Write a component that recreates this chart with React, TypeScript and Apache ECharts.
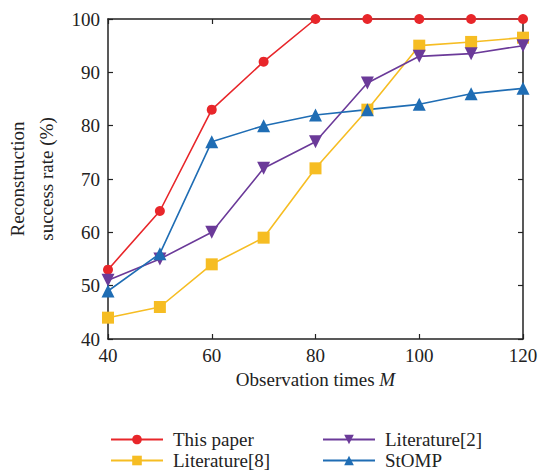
import React, { useEffect, useRef } from "react";
import * as echarts from "echarts";

const xValues = [40, 50, 60, 70, 80, 90, 100, 110, 120];
const thisPaper = [53, 64, 83, 92, 100, 100, 100, 100, 100];
const literature8 = [44, 46, 54, 59, 72, 83, 95, 95.7, 96.5];
const literature2 = [51, 55, 60, 72, 77, 88, 93, 93.5, 95];
const stomp = [49, 56, 77, 80, 82, 83, 84, 86, 87];

const FONT = "Liberation Serif";
const FS = 19;

function pairs(ys: number[]) {
  return xValues.map((x, i) => [x, ys[i]]);
}

export default function App() {
  const ref = useRef<HTMLDivElement>(null);
  useEffect(() => {
    if (!ref.current) return;
    const chart = echarts.init(ref.current, undefined, { renderer: "svg" });
    const axisLine = { show: true, lineStyle: { color: "#222", width: 1.5 } };
    const tick = { show: true, inside: true, length: 5, lineStyle: { color: "#222", width: 1.2 } };
    const label = { color: "#222", fontFamily: FONT, fontSize: FS };
    const mkSeries = (name: string, data: number[], color: string, symbol: string, size: number, rotate = 0) => ({
      name,
      type: "line",
      data: pairs(data),
      symbol,
      symbolSize: size,
      symbolRotate: rotate,
      itemStyle: { color },
      lineStyle: { color, width: 1.6 },
    });
    const mkLegend = (name: string, left: number, top: number) => ({
      data: [name],
      left,
      top,
      padding: 0,
      itemWidth: 52,
      itemHeight: 12,
      textStyle: { fontFamily: FONT, fontSize: FS, color: "#222", padding: [0, 0, 0, 5] },
    });
    chart.setOption({
      animation: false,
      backgroundColor: "#fff",
      grid: { left: 108, right: 31, top: 19, bottom: 137, outerBoundsMode: "none", containLabel: false },
      xAxis: [
        {
          type: "value",
          min: 40,
          max: 120,
          interval: 20,
          position: "bottom",
          axisLine,
          axisTick: tick,
          splitLine: { show: false },
          axisLabel: { ...label, margin: 7 },
          name: "{n|Observation times }{i|M}",
          nameLocation: "middle",
          nameGap: 30,
          nameTextStyle: {
            rich: {
              n: { fontFamily: FONT, fontSize: FS, color: "#222" },
              i: { fontFamily: FONT, fontSize: FS, color: "#222", fontStyle: "italic" },
            },
          },
        },
        {
          type: "value",
          min: 40,
          max: 120,
          interval: 20,
          position: "top",
          axisLine,
          axisTick: tick,
          splitLine: { show: false },
          axisLabel: { show: false },
        },
      ],
      yAxis: [
        {
          type: "value",
          min: 40,
          max: 100,
          interval: 10,
          position: "left",
          axisLine,
          axisTick: tick,
          splitLine: { show: false },
          axisLabel: { ...label, margin: 8 },
          name: "Reconstruction\nsuccess rate (%)",
          nameLocation: "middle",
          nameGap: 38,
          nameTextStyle: { fontFamily: FONT, fontSize: FS, color: "#222", lineHeight: 29 },
        },
        {
          type: "value",
          min: 40,
          max: 100,
          interval: 10,
          position: "right",
          axisLine,
          axisTick: tick,
          splitLine: { show: false },
          axisLabel: { show: false },
        },
      ],
      legend: [
        mkLegend("This paper", 110, 430),
        mkLegend("Literature[8]", 110, 451),
        mkLegend("Literature[2]", 322, 430),
        mkLegend("StOMP", 322, 451),
      ],
      series: [
        mkSeries("This paper", thisPaper, "#e8262a", "circle", 10),
        mkSeries("Literature[8]", literature8, "#f6bd23", "rect", 12),
        mkSeries("Literature[2]", literature2, "#6b3a99", "triangle", 13, 180),
        mkSeries("StOMP", stomp, "#1f6db4", "triangle", 13),
      ],
    });
    return () => chart.dispose();
  }, []);
  return <div ref={ref} style={{ position: "absolute", left: 0, top: 0, width: 554, height: 476 }} />;
}
